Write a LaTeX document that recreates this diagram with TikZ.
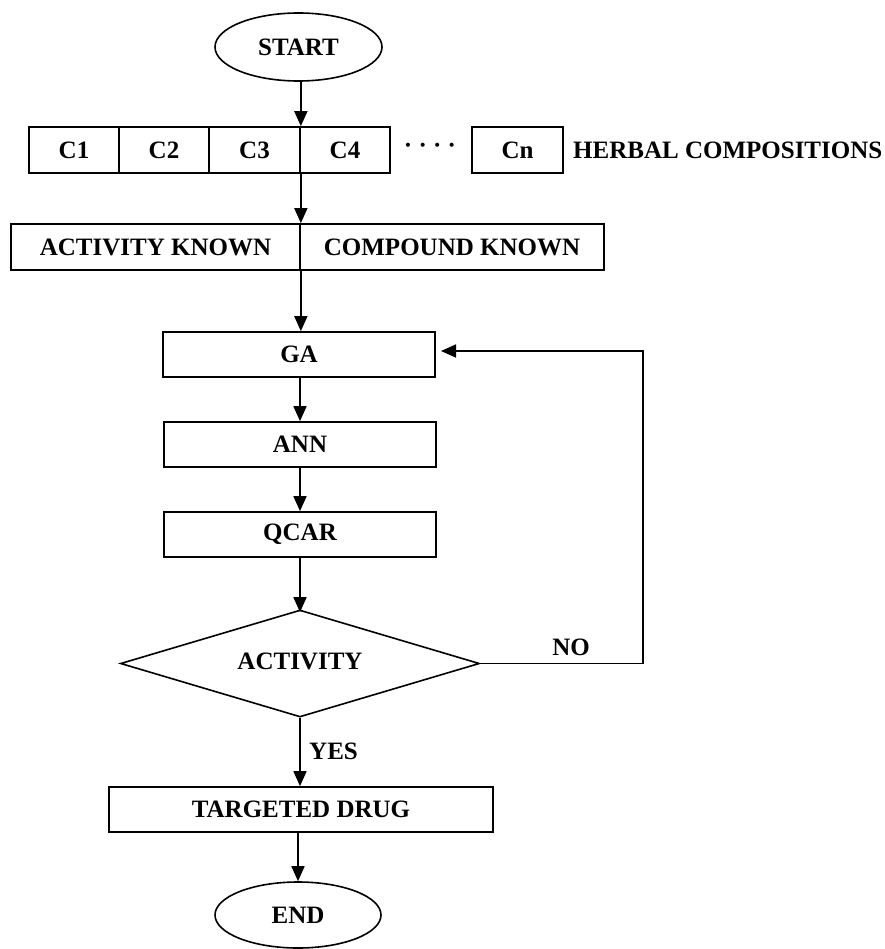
\documentclass[tikz,border=0pt]{standalone}
\usepackage{fontspec}
\setmainfont{Liberation Serif}
\usetikzlibrary{shapes.geometric,arrows.meta}
\begin{document}
\begin{tikzpicture}[x=1pt,y=-1pt,
  every node/.style={font=\fontsize{25}{30}\selectfont\bfseries,inner sep=0pt},
  box/.style={draw,line width=1.7pt,rectangle,minimum height=#1},
  box/.default=46pt,
  oval/.style={draw,line width=1.6pt,ellipse,minimum width=167pt,minimum height=68pt},
  arr/.style={line width=1.7pt,-{Triangle[length=15pt,width=13pt]}},
  ln/.style={line width=1.7pt}]
\useasboundingbox[fill=white] (0,0) rectangle (884,949);

\node[oval] (start) at (298.5,47) {START};

\node[box,minimum width=90pt] (c1) at (74,150) {C1};
\node[box,minimum width=90pt] (c2) at (164,150) {C2};
\node[box,minimum width=91pt] (c3) at (254.5,150) {C3};
\node[box,minimum width=90pt] (c4) at (345,150) {C4};
\node (dots) at (430,148) {·\ ·\ ·\ ·};
\node[box,minimum width=91pt] (cn) at (517.5,150) {Cn};
\node[anchor=west] (herbal) at (573,150) {HERBAL COMPOSITIONS};

\node[box,minimum width=289pt] (ak) at (155.5,247) {ACTIVITY KNOWN};
\node[box,minimum width=304pt] (ck) at (452,247) {COMPOUND KNOWN};

\node[box=45pt,minimum width=272pt] (ga) at (299,354.5) {GA};
\node[box=45pt,minimum width=272pt] (ann) at (300,444.5) {ANN};
\node[box=45pt,minimum width=272pt] (qcar) at (300,534.5) {QCAR};

\node[draw,line width=1.6pt,diamond,shape aspect=3.36,minimum width=359pt,minimum height=107pt] (dia) at (300,663.5) {\raisebox{5pt}{ACTIVITY}};

\node[box=45pt,minimum width=384pt] (td) at (301,809.5) {TARGETED DRUG};
\node[oval,minimum width=166pt,minimum height=66pt] (end) at (298,915) {END};

\node[anchor=west] (yes) at (309,751) {YES};
\node (no) at (571,647.5) {NO};

\coordinate (r1) at (643,663.5);
\coordinate (r2) at (643,351);
\coordinate (gaR) at (441,351);

\draw[arr] (start.south -| c3.north east) -- (c3.north east);
\draw[arr] (c3.south east) -- (ak.north east);
\draw[arr] (ak.south east) -- (ak.south east |- ga.north);
\draw[arr] (ga.south -| ann.north) -- (ann.north);
\draw[arr] (ann.south) -- (qcar.north);
\draw[arr] (qcar.south) -- ([yshift=-3pt]dia.north);
\draw[arr] (dia.south) -- (dia.south |- td.north);
\draw[arr] (td.south -| end.north) -- (end.north);
\draw[arr] (dia.east) -- (r1) -- (r2) -- (gaR);
\end{tikzpicture}
\end{document}
